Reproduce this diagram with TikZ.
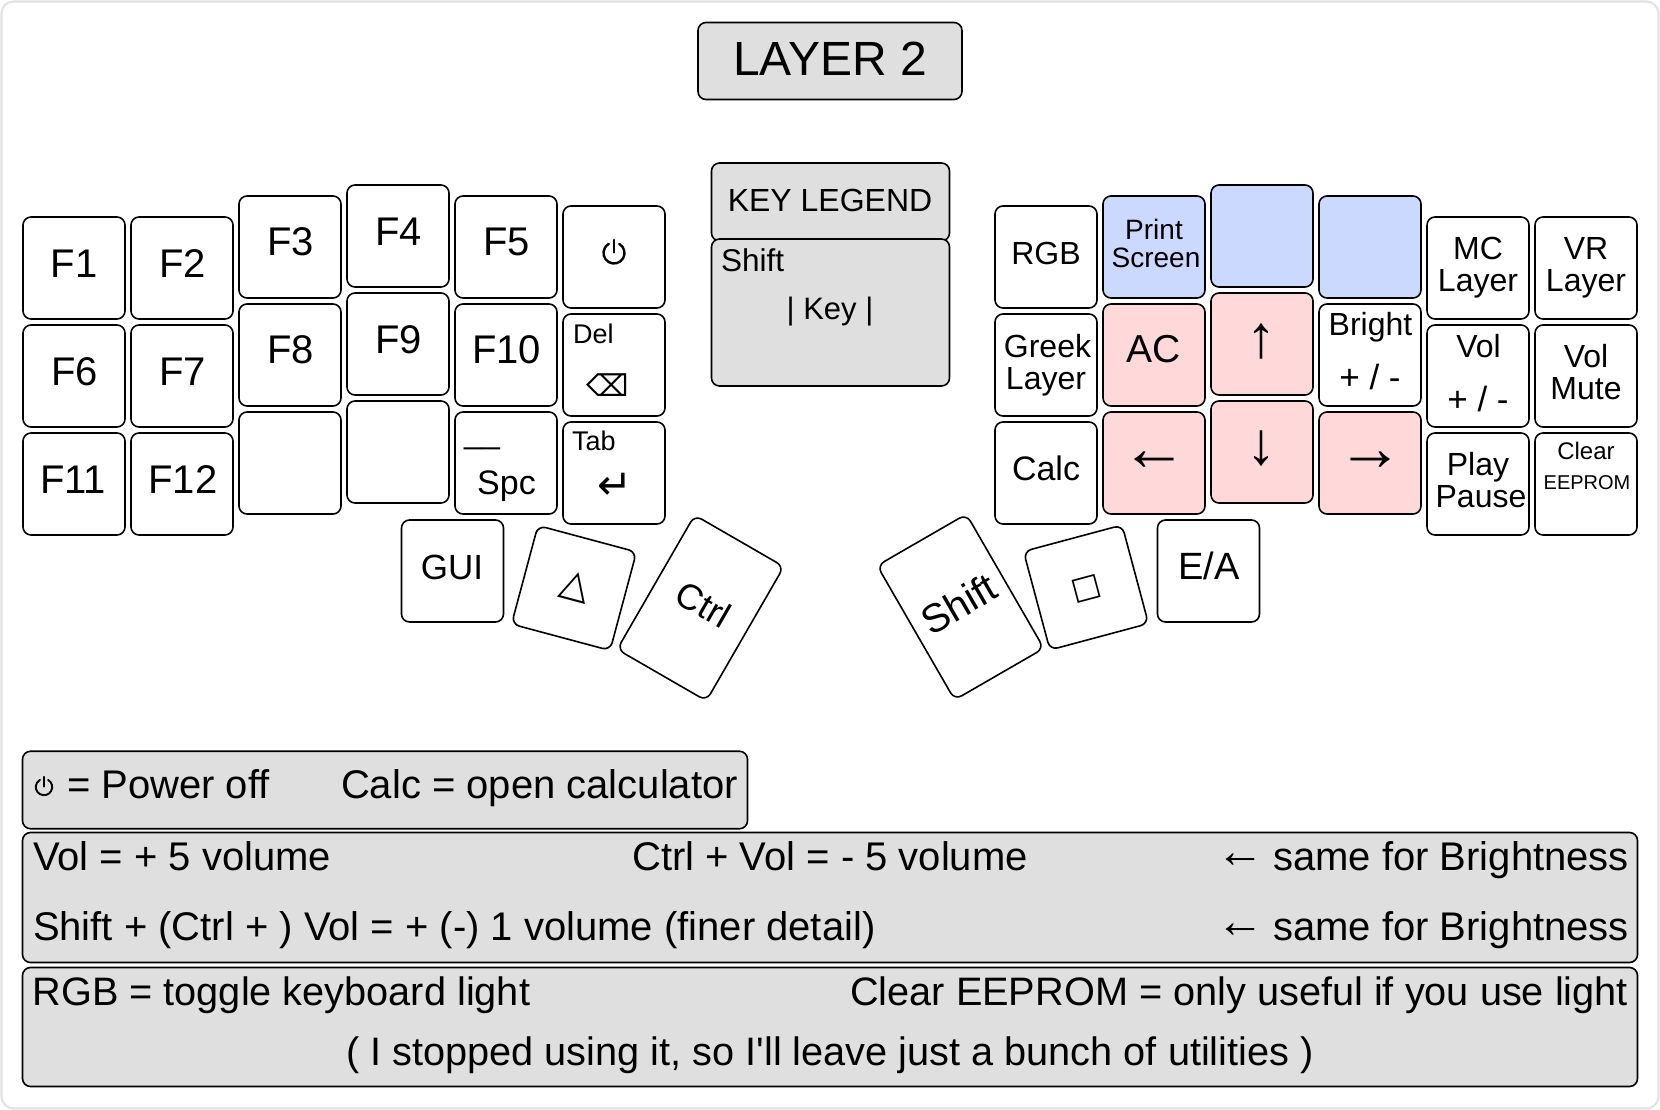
\documentclass[tikz,border=0pt]{standalone}
\usepackage{fontspec}
\setmainfont{Liberation Sans}
\newfontfamily\symfont{DejaVu Sans}
\newfontfamily\rawfont{Liberation Sans}
\definecolor{panel}{HTML}{DFDFDF}
\definecolor{rosekey}{HTML}{FFD9D9}
\definecolor{bluekey}{HTML}{CCD9FF}
\definecolor{frame}{HTML}{E3E3E3}
\newcommand\Sz[1]{\fontsize{#1}{#1}\selectfont}
\tikzset{
  keycap/.style={draw=black,line width=1.6pt,rounded corners=8pt,minimum width=102pt,minimum height=102pt,inner sep=0pt,outer sep=0pt,fill=white},
  tallcap/.style={keycap,minimum width=103pt,minimum height=155pt},
  panelbox/.style={draw=black,line width=1.6pt,rounded corners=8pt,fill=panel,inner sep=0pt},
  lbl/.style={inner sep=0pt,outer sep=0pt,anchor=base,text=black},
  lblw/.style={lbl,anchor=base west},
  lble/.style={lbl,anchor=base east},
  lblc/.style={lbl,anchor=center},
  powericon/.style={draw=black,line cap=round}
}
% name, left, top, fill
\newcommand\KeyCap[4]{\node[keycap,fill=#4] (#1) at (#2+51,#3+51) {};}
% name, x, baseline, size, text
\newcommand\Lbl[5]{\node[lbl] (#1) at (#2,#3) {\Sz{#4}#5};}
\newcommand\LblW[5]{\node[lblw] (#1) at (#2,#3) {\Sz{#4}#5};}
\newcommand\LblE[5]{\node[lble] (#1) at (#2,#3) {\Sz{#4}#5};}
% centre x, centre y, radius, line width: the power symbol, which no listed font has
\newcommand\PowerIcon[4]{%
  \draw[powericon,line width=#4pt] (#1,#2) ++(-60:#3) arc[start angle=-60,end angle=240,radius=#3];
  \draw[powericon,line width=#4pt] (#1,#2) ++(0,-1.25*#3) -- ++(0,1.2*#3);}
\newcommand\SameFor{{\Sz{48}\raisebox{3.5pt}{←}}\hspace{-2pt} same for Brightness}
\begin{document}
\begin{tikzpicture}[x=1pt,y=-1pt]
\useasboundingbox (0,0) rectangle (1660,1110);
\fill[white] (0,0) rectangle (1660,1110);
\draw[frame,line width=2.2pt,rounded corners=12pt] (1.5,1.5) rectangle (1658.5,1108.5);
% title
\node[panelbox,minimum width=264pt,minimum height=77pt] (title) at (830,61) {};
\Lbl{titletxt}{830}{76}{48}{LAYER 2}
% legend
\node[panelbox,minimum width=238pt,minimum height=78pt] (legendhead) at (830.5,202) {};
\Lbl{legendtxt}{830}{212}{32}{KEY LEGEND}
\node[panelbox,minimum width=238pt,minimum height=147pt] (legendbody) at (830.5,312.5) {};
\LblW{legendshift}{721}{271.5}{31.5}{Shift}
\Lbl{legendkey}{830}{319.5}{31}{| Key |}
% left hand
\KeyCap{f1}{23}{217}{white}\KeyCap{f2}{131}{217}{white}\KeyCap{f3}{239}{196}{white}\KeyCap{f4}{347}{185}{white}\KeyCap{f5}{455}{196}{white}\KeyCap{pw}{563}{206}{white}
\KeyCap{f6}{23}{325}{white}\KeyCap{f7}{131}{325}{white}\KeyCap{f8}{239}{304}{white}\KeyCap{f9}{347}{293}{white}\KeyCap{f10}{455}{304}{white}\KeyCap{del}{563}{314}{white}
\KeyCap{f11}{23}{433}{white}\KeyCap{f12}{131}{433}{white}\KeyCap{blanka}{239}{412}{white}\KeyCap{blankb}{347}{401}{white}\KeyCap{spc}{455}{412}{white}\KeyCap{tabk}{563}{422}{white}
\Lbl{tf1}{74}{277}{40}{F1}\Lbl{tf2}{182.5}{277}{40}{F2}\Lbl{tf3}{290.5}{255}{40}{F3}\Lbl{tf4}{398.5}{245}{40}{F4}\Lbl{tf5}{506.5}{255}{40}{F5}
\Lbl{tf6}{74.5}{385}{40}{F6}\Lbl{tf7}{182.5}{385}{40}{F7}\Lbl{tf8}{290.5}{363}{40}{F8}\Lbl{tf9}{398.5}{353}{40}{F9}\Lbl{tf10}{506.5}{363}{40}{F10}
\Lbl{tf11}{73}{493}{40}{F11}\Lbl{tf12}{183}{493}{40}{F12}
\PowerIcon{614}{253}{10.5}{2.4}
\LblW{tdel}{573}{343}{27}{Del}
\node[lblc] (tbksp) at (608,385) {\Sz{30}\symfont ⌫};
\LblW{ttab}{572}{450}{27}{Tab}
\node[lblc] (tenter) at (615,486) {\Sz{42}\symfont ↵};
\Lbl{tus}{482}{443}{32}{\_\_}
\Lbl{tspc}{506.5}{494}{34}{Spc}
% thumbs
\KeyCap{gui}{401.5}{520}{white}\KeyCap{ea}{1157.5}{520}{white}
\Lbl{tgui}{452}{579}{35}{GUI}\Lbl{tea}{1209}{579}{38}{E/A}
\node[keycap,rotate=-15] (tri) at (574,588) {};
\node[tallcap,rotate=-30] (ctrl) at (700.5,608) {};
\node[tallcap,rotate=30] (shift) at (960.5,607) {};
\node[keycap,rotate=15] (sq) at (1086,587.5) {};
\node[lblc,rotate=-15] (ttri) at (575.5,587) {\Sz{38}\symfont △};
\node[lblc,rotate=-30] (tctrl) at (703.5,604) {\Sz{36}Ctrl};
\node[lblc,rotate=30] (tshift) at (958.5,604) {\Sz{40}Shift};
\node[lblc,rotate=15] (tsq) at (1087,589) {\Sz{31}\symfont □};
% right hand
\KeyCap{rgb}{995}{206}{white}\KeyCap{prt}{1103}{196}{bluekey}\KeyCap{bla}{1211}{185}{bluekey}\KeyCap{blb}{1319}{196}{bluekey}\KeyCap{mc}{1427}{217}{white}\KeyCap{vr}{1535}{217}{white}
\KeyCap{greek}{995}{314}{white}\KeyCap{ac}{1103}{304}{rosekey}\KeyCap{up}{1211}{293}{rosekey}\KeyCap{bright}{1319}{304}{white}\KeyCap{vol}{1427}{325}{white}\KeyCap{mute}{1535}{325}{white}
\KeyCap{calc}{995}{422}{white}\KeyCap{lft}{1103}{412}{rosekey}\KeyCap{dwn}{1211}{401}{rosekey}\KeyCap{rgt}{1319}{412}{rosekey}\KeyCap{play}{1427}{433}{white}\KeyCap{clr}{1535}{433}{white}
\Lbl{trgb}{1046}{265}{32}{RGB}
\Lbl{tprint}{1154}{239.5}{28}{Print}\Lbl{tscreen}{1156}{268}{28}{Screen}
\Lbl{tmc}{1478}{259}{32}{MC}\Lbl{tmcl}{1478}{291}{32}{Layer}
\Lbl{tvr}{1586}{259}{32}{VR}\Lbl{tvrl}{1586}{291}{32}{Layer}
\Lbl{tgreek}{1047.5}{357}{32}{Greek}\Lbl{tgreekl}{1046}{389}{32}{Layer}
\Lbl{tac}{1154}{362.5}{39}{AC}
\Lbl{tbright}{1370.5}{335}{32}{Bright}\Lbl{tbrpm}{1370}{389}{35}{+ / -}
\Lbl{tvol}{1478.5}{357}{32}{Vol}\Lbl{tvolpm}{1478}{411}{35}{+ / -}
\Lbl{tvolm}{1586}{367}{32}{Vol}\Lbl{tmute}{1586}{399.5}{32}{Mute}
\Lbl{tcalc}{1046}{480.5}{34}{Calc}
\Lbl{tplay}{1478}{475.5}{32}{Play}\Lbl{tpause}{1481}{507}{32}{Pause}
\Lbl{tclear}{1586}{459}{24}{Clear}\Lbl{teeprom}{1587}{489}{20}{EEPROM}
\node[lblc] (tup) at (1261.5,341.5) {\Sz{60}↑};
\node[lblc] (tdn) at (1261.5,449) {\Sz{60}↓};
\node[lblc] (tlf) at (1154,461.5) {\Sz{66}←};
\node[lblc] (trt) at (1370,461.5) {\Sz{66}→};
% bottom panels
\node[panelbox,minimum width=725pt,minimum height=77.5pt] (pa) at (385,790) {};
\node[panelbox,minimum width=1615pt,minimum height=130pt] (pb) at (830,897.5) {};
\node[panelbox,minimum width=1615pt,minimum height=119pt] (pc) at (830,1027) {};
\PowerIcon{44}{787}{8.2}{1.9}
\LblW{ta1}{67}{798.5}{40}{= Power off}
\LblE{ta2}{738}{798.5}{40}{Calc = open calculator}
\LblW{tb1}{33}{870.5}{40}{Vol = + 5 volume}
\Lbl{tb2}{830}{870.5}{40}{Ctrl + Vol = - 5 volume}
\LblE{tb3}{1629}{870.5}{40}{\SameFor}
\LblW{tb4}{33}{940.5}{40}{Shift + (Ctrl + ) Vol = + (-) 1 volume (finer detail)}
\LblE{tb5}{1629}{940.5}{40}{\SameFor}
\LblW{tc1}{32.5}{1005}{39.7}{RGB = toggle keyboard light}
\LblE{tc2}{1628}{1005}{39.7}{Clear EEPROM = only useful if you use light}
\Lbl{tc3}{830}{1065}{39.7}{\rawfont ( I stopped using it, so I'll leave just a bunch of utilities )}
\end{tikzpicture}
\end{document}
